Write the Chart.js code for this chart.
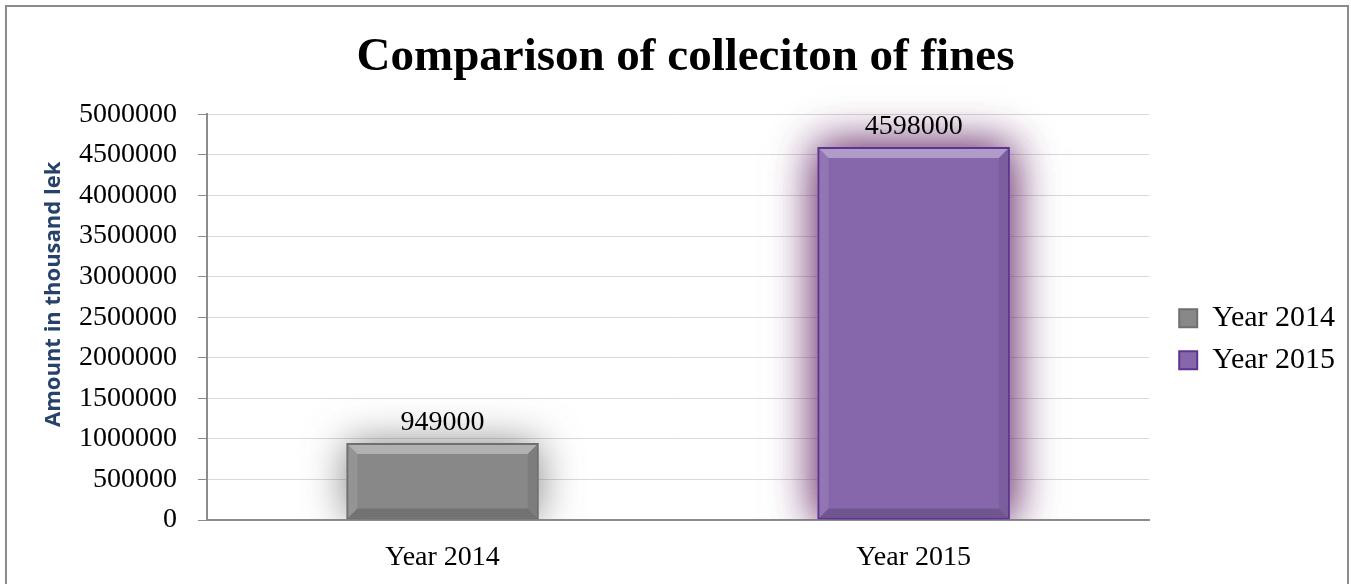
<!DOCTYPE html>
<html>
<head>
<meta charset="utf-8">
<script src="https://cdn.jsdelivr.net/npm/chart.js@4/dist/chart.umd.min.js"></script>
<style>
  html, body { margin: 0; padding: 0; background: #fff; }
  #wrap { width: 1351px; height: 584px; position: relative; }
</style>
</head>
<body>
<div id="wrap"><canvas id="fineChart"></canvas></div>
<script>
// data
var categories = ['Year 2014', 'Year 2015'];
var seriesNames = ['Year 2014', 'Year 2015'];
var values2014 = [949000, null];
var values2015 = [null, 4598000];
var yTicks = [0, 500000, 1000000, 1500000, 2000000, 2500000, 3000000, 3500000, 4000000, 4500000, 5000000];

var serif = "'Liberation Serif', 'Times New Roman', serif";
var fills = ['#888888', '#8667ab'];
var edges = ['#6f6f6f', '#5d3590'];
var glows = ['rgba(90,90,90,0.75)', 'rgba(105,45,105,0.75)'];
var glowPasses = [1, 2];

function eachBar(chart, index, fn) {
	var meta = chart.getDatasetMeta(index);
	var data = chart.data.datasets[index].data;
	meta.data.forEach(function(bar, i) {
		if (data[i] == null) return;
		var p = bar.getProps(['x', 'y', 'width', 'base'], true);
		fn(p.x - p.width / 2, p.x + p.width / 2, p.y, p.base);
	});
}

// soft glow round each bar, bevel on top of it
var glowPlugin = {
	id: 'glow',
	beforeDatasetDraw: function(chart, args) {
		var ctx = chart.ctx;
		eachBar(chart, args.index, function(l, r, t, b) {
			ctx.save();
			ctx.beginPath();
			ctx.rect(chart.chartArea.left, 0, chart.chartArea.width, b);
			ctx.clip();
			ctx.shadowColor = glows[args.index];
			ctx.shadowBlur = 42;
			ctx.fillStyle = fills[args.index];
			for (var k = 0; k < glowPasses[args.index]; k++) {
				ctx.fillRect(l, t, r - l, b - t);
			}
			ctx.restore();
		});
	},
	afterDatasetDraw: function(chart, args) {
		var ctx = chart.ctx;
		eachBar(chart, args.index, function(l, r, t, b) {
			l += 2; r -= 2; t += 2; b -= 2;
			var d = 9;
			ctx.save();
			ctx.fillStyle = 'rgba(255,255,255,0.35)';
			ctx.beginPath();
			ctx.moveTo(l, t); ctx.lineTo(r, t); ctx.lineTo(r - d, t + d); ctx.lineTo(l + d, t + d);
			ctx.closePath(); ctx.fill();
			ctx.fillStyle = 'rgba(255,255,255,0.10)';
			ctx.beginPath();
			ctx.moveTo(l, t); ctx.lineTo(l + d, t + d); ctx.lineTo(l + d, b - d); ctx.lineTo(l, b);
			ctx.closePath(); ctx.fill();
			ctx.fillStyle = 'rgba(0,0,0,0.08)';
			ctx.beginPath();
			ctx.moveTo(r, t); ctx.lineTo(r - d, t + d); ctx.lineTo(r - d, b - d); ctx.lineTo(r, b);
			ctx.closePath(); ctx.fill();
			ctx.fillStyle = 'rgba(0,0,0,0.16)';
			ctx.beginPath();
			ctx.moveTo(l, b); ctx.lineTo(l + d, b - d); ctx.lineTo(r - d, b - d); ctx.lineTo(r, b);
			ctx.closePath(); ctx.fill();
			ctx.restore();
		});
	}
};

// value above each bar
var valueLabels = {
	id: 'valueLabels',
	afterDatasetsDraw: function(chart) {
		var ctx = chart.ctx;
		ctx.save();
		ctx.font = '28px ' + serif;
		ctx.fillStyle = '#000';
		ctx.textAlign = 'center';
		ctx.textBaseline = 'alphabetic';
		chart.data.datasets.forEach(function(ds, di) {
			var meta = chart.getDatasetMeta(di);
			ds.data.forEach(function(v, i) {
				if (v == null) return;
				var bar = meta.data[i];
				ctx.fillText(String(v), bar.x, bar.y - 13);
			});
		});
		ctx.restore();
	}
};

// outer frame of the picture
var framePlugin = {
	id: 'frame',
	afterDraw: function(chart) {
		var ctx = chart.ctx;
		ctx.save();
		ctx.strokeStyle = '#8c8c8c';
		ctx.lineWidth = 2;
		ctx.strokeRect(6, 6, chart.width - 9, chart.height + 10);
		ctx.restore();
	}
};

var ctx = document.getElementById('fineChart').getContext('2d');
var chart = new Chart(ctx, {
	type: 'bar',
	data: {
		labels: categories,
		datasets: [{
			label: seriesNames[0],
			data: values2014,
			backgroundColor: fills[0],
			borderColor: edges[0],
			borderWidth: 2,
			borderSkipped: false
		}, {
			label: seriesNames[1],
			data: values2015,
			backgroundColor: fills[1],
			borderColor: edges[1],
			borderWidth: 2,
			borderSkipped: false
		}]
	},
	options: {
		responsive: true,
		maintainAspectRatio: false,
		animation: false,
		skipNull: true,
		barPercentage: 0.408,
		categoryPercentage: 1,
		layout: { padding: { left: 26, right: 6, top: 0, bottom: 0 } },
		plugins: {
			title: {
				display: true,
				text: 'Comparison of colleciton of fines',
				color: '#000',
				font: { family: serif, size: 47, weight: 'bold', lineHeight: 1.2 },
				padding: { top: 30, bottom: 28 }
			},
			legend: {
				position: 'right',
				fullSize: false,
				title: { display: true, text: '', font: { size: 20, lineHeight: 1.2 }, padding: 10 },
				labels: {
					color: '#000',
					font: { family: serif, size: 30 },
					boxWidth: 18,
					boxHeight: 18,
					padding: 12
				}
			},
			tooltip: { enabled: false }
		},
		scales: {
			x: {
				grid: { display: false },
				border: { display: true, color: '#8c8c8c', width: 2 },
				ticks: { color: '#000', font: { family: serif, size: 28 }, padding: 13 },
				afterFit: function(scale) { scale.height = 64; }
			},
			y: {
				min: 0,
				max: 5000000,
				afterBuildTicks: function(scale) {
					scale.ticks = yTicks.map(function(v) { return { value: v }; });
				},
				afterFit: function(scale) { scale.width = 181; },
				grid: { color: '#d9d9d9', tickColor: '#8c8c8c', tickLength: 9, lineWidth: 1 },
				border: { display: true, color: '#8c8c8c', width: 2 },
				ticks: {
					color: '#000',
					font: { family: serif, size: 28 },
					padding: 21,
					callback: function(v) { return String(v); }
				},
				title: {
					display: true,
					// leading spaces lift the title a little, as in the original
					text: '        Amount in thousand lek',
					color: '#26426b',
					font: { family: "'Open Sans'", size: 22, weight: 'bold', lineHeight: 1.2 },
					padding: { top: 15, bottom: 4 }
				}
			},
			y2: {
				position: 'right',
				display: true,
				grid: { display: false },
				border: { display: false },
				ticks: { display: false },
				afterFit: function(scale) { scale.width = 18; }
			}
		}
	},
	plugins: [glowPlugin, valueLabels, framePlugin]
});
</script>
</body>
</html>
